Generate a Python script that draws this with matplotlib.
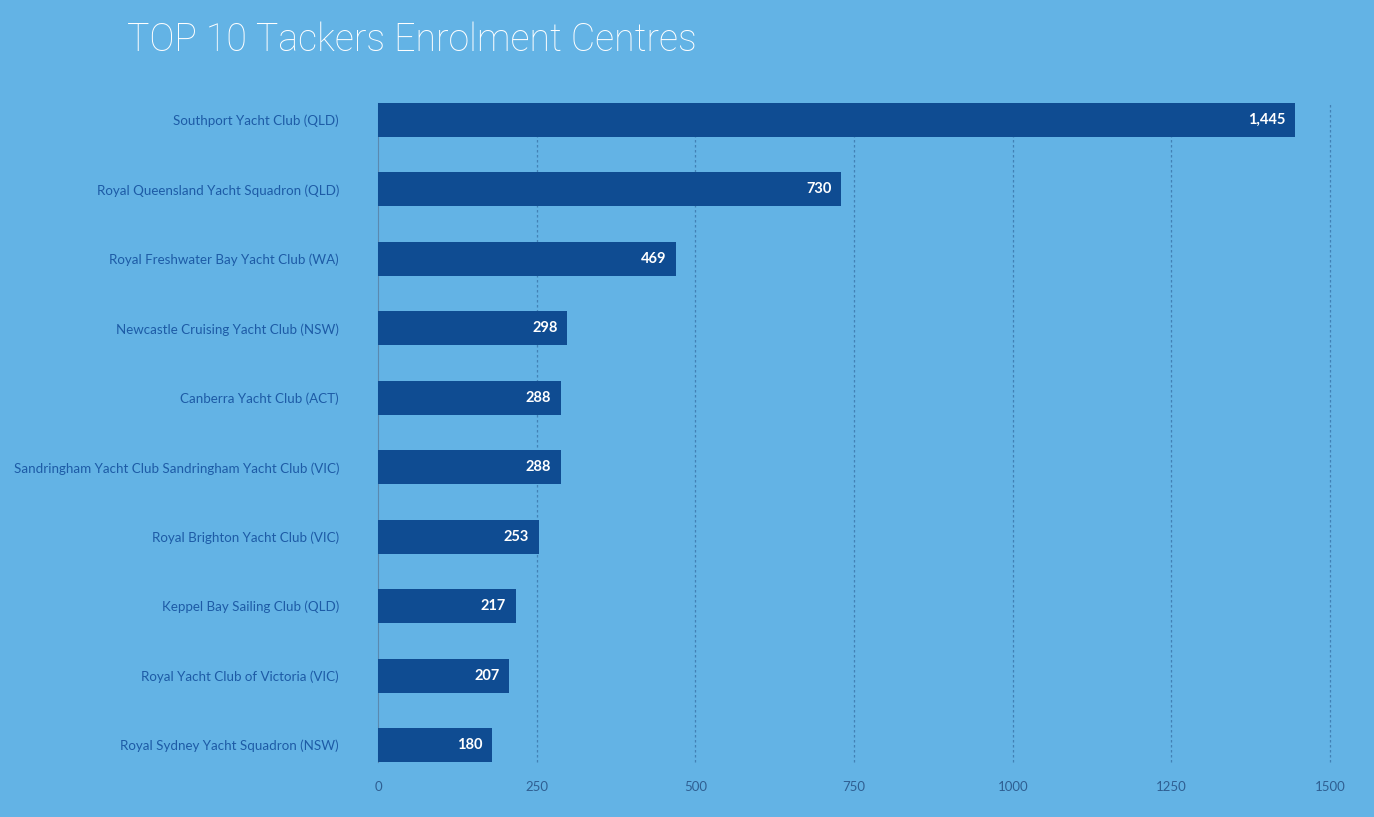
import matplotlib.pyplot as plt
import numpy as np

# data
clubs = [
    "Southport Yacht Club (QLD)",
    "Royal Queensland Yacht Squadron (QLD)",
    "Royal Freshwater Bay Yacht Club (WA)",
    "Newcastle Cruising Yacht Club (NSW)",
    "Canberra Yacht Club (ACT)",
    "Sandringham Yacht Club Sandringham Yacht Club (VIC)",
    "Royal Brighton Yacht Club (VIC)",
    "Keppel Bay Sailing Club (QLD)",
    "Royal Yacht Club of Victoria (VIC)",
    "Royal Sydney Yacht Squadron (NSW)",
]
enrolments = [1445, 730, 469, 298, 288, 288, 253, 217, 207, 180]
xticks = [0, 250, 500, 750, 1000, 1250, 1500]

bg = "#63b3e5"
bar_col = "#0f4c92"
lab_col = "#1d5ba6"
tick_col = "#2f5f92"

plt.rcParams['font.family'] = ['Lato', 'DejaVu Sans']

fig = plt.figure(figsize=(13.74, 8.17), dpi=100, facecolor=bg)
ax = fig.add_axes([0.2751, 0.0673, 0.6929, 0.8066])
ax.set_facecolor(bg)

y = np.arange(len(clubs))
ax.barh(y, enrolments, height=0.49, color=bar_col, zorder=3)

for yi, v in zip(y, enrolments):
    ax.text(v - 15, yi, "{:,}".format(v), ha='right', va='center',
            color='white', fontsize=10.5, fontweight='bold', zorder=4)

ax.set_xlim(0, 1500)
ax.set_ylim(9.245, -0.245)
ax.set_yticks(y)
ax.set_yticklabels(clubs, fontsize=9.6, color=lab_col)
ax.set_xticks(xticks)
ax.set_xticklabels([str(t) for t in xticks], fontsize=9.5, color=tick_col)
ax.tick_params(axis='both', length=0)
ax.tick_params(axis='y', pad=28)
ax.tick_params(axis='x', pad=14)

for t in xticks[1:]:
    ax.axvline(t, color="#4381b5", lw=0.9, ls=(0, (2, 2)), zorder=1, clip_on=False)

for s in ['top', 'right', 'bottom']:
    ax.spines[s].set_visible(False)
ax.spines['left'].set_color("#5a89b0")
ax.spines['left'].set_linewidth(0.8)

fig.text(127 / 1374, 1 - 40 / 817, "TOP 10 Tackers Enrolment Centres",
         color='white', fontsize=27, fontweight='light', va='center', ha='left',
         family=['Roboto', 'DejaVu Sans'])

fig.savefig("out.png", dpi=100, facecolor=bg)
